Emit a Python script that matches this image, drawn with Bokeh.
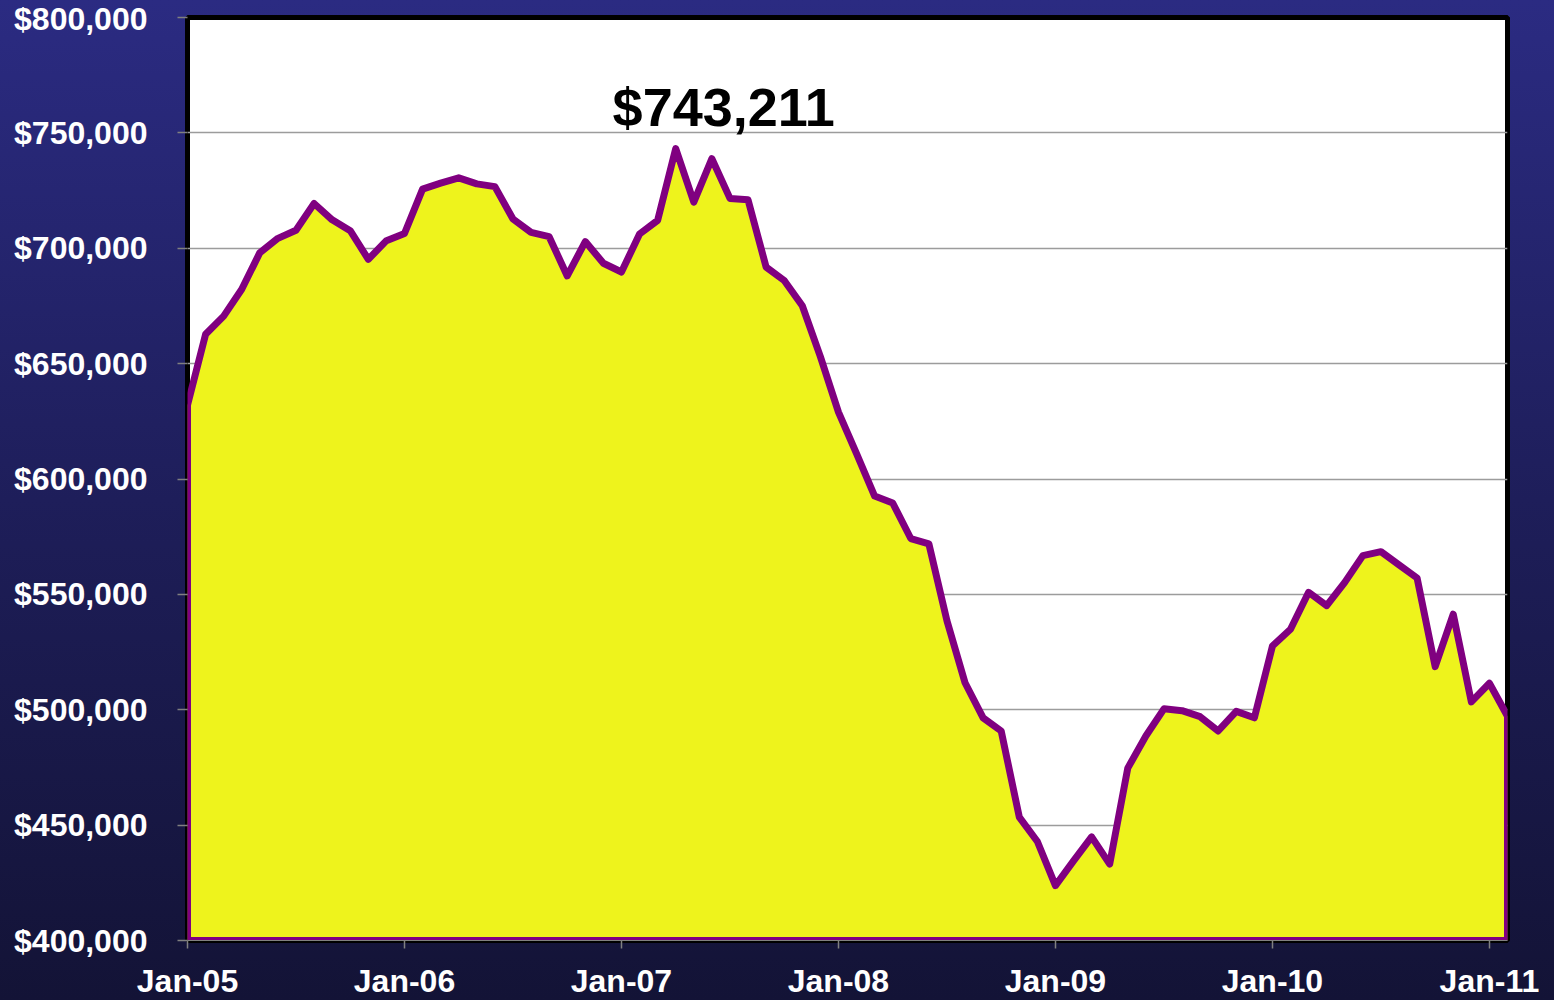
from bokeh.plotting import figure
from bokeh.models import Label, FixedTicker, Range1d
from bokeh.embed import file_html
from bokeh.resources import INLINE

# ---- data ----
month_names = ["Jan", "Feb", "Mar", "Apr", "May", "Jun",
               "Jul", "Aug", "Sep", "Oct", "Nov", "Dec"]
years = ["05", "06", "07", "08", "09", "10", "11"]
months = [f"{m}-{y}" for y in years for m in month_names][:74]

prices = [632000, 662700, 670600, 682200, 698100, 704300, 707800, 719400,
          712300, 707600, 695200, 703300, 706400, 725600, 728200, 730500,
          727900, 726700, 712700, 706900, 705000, 688000, 702900, 693500,
          689700, 706200, 712100, 743211, 720000, 738800, 721600, 721000,
          691800, 686000, 675100, 653000, 629000, 611000, 592600, 589600,
          574200, 571900, 538600, 511700, 496500, 490800, 453500, 442900,
          423800, 434500, 444900, 433100, 474700, 488600, 500400, 499600,
          497000, 490800, 499300, 496500, 527600, 534900, 550900, 545100,
          555200, 566800, 568500, 562800, 557100, 518700, 541400, 503400,
          511500, 497200]

x_tick_positions = [0, 12, 24, 36, 48, 60, 72]
x_tick_labels = ["Jan-05", "Jan-06", "Jan-07", "Jan-08", "Jan-09", "Jan-10", "Jan-11"]
y_ticks = [400000, 450000, 500000, 550000, 600000, 650000, 700000, 750000, 800000]
y_tick_labels = ["$400,000", "$450,000", "$500,000", "$550,000", "$600,000",
                 "$650,000", "$700,000", "$750,000", "$800,000"]
peak_label = "$743,211"

# ---- figure ----
n = len(prices)
xs = list(range(n))
y_min, y_max = y_ticks[0], y_ticks[-1]

FONT = "Liberation Sans"

p = figure(frame_width=1320, frame_height=923,
           x_range=Range1d(0, n - 1), y_range=Range1d(y_min, y_max),
           output_backend="svg", toolbar_location=None,
           min_border_left=187, min_border_right=47,
           min_border_top=17, min_border_bottom=40)

p.border_fill_color = None
p.background_fill_color = "white"
p.outline_line_color = "black"
p.outline_line_width = 5

# area
px = [xs[0]] + xs + [xs[-1]]
py = [y_min] + prices + [y_min]
p.patch(px, py, fill_color="#EEF31C", line_color="#800080",
        line_width=7, line_join="round")

# grid
p.xgrid.visible = False
p.ygrid.ticker = FixedTicker(ticks=y_ticks)
p.ygrid.grid_line_color = "#9c9c9c"
p.ygrid.grid_line_width = 1.5

# axes
p.xaxis.ticker = FixedTicker(ticks=x_tick_positions)
p.xaxis.major_label_overrides = {t: l for t, l in zip(x_tick_positions, x_tick_labels)}
p.yaxis.ticker = FixedTicker(ticks=y_ticks)
p.yaxis.major_label_overrides = {t: l for t, l in zip(y_ticks, y_tick_labels)}

for ax in (p.xaxis[0], p.yaxis[0]):
    ax.major_label_text_color = "white"
    ax.major_label_text_font = FONT
    ax.major_label_text_font_style = "bold"
    ax.major_label_text_font_size = "32px"
    ax.major_tick_line_color = "#808080"
    ax.major_tick_line_width = 1.5
    ax.major_tick_in = 0
    ax.minor_tick_line_color = None
    ax.axis_line_color = "#808080"

p.xaxis.major_tick_out = 8
p.xaxis.major_label_standoff = 14
p.yaxis.major_tick_out = 10
p.yaxis.major_label_standoff = 30
p.yaxis.axis_line_color = None

# peak annotation
peak_idx = prices.index(max(prices))
p.add_layout(Label(x=peak_idx, y=prices[peak_idx], text=peak_label,
                   x_offset=48, y_offset=42,
                   text_align="center", text_baseline="alphabetic",
                   text_font=FONT, text_font_style="bold",
                   text_font_size="54px", text_color="black"))

html = file_html(p, INLINE)
style = ("<style>html{height:100%;background:linear-gradient(to bottom,#2b2b82 0%,#1e1e5a 50%,#131336 100%);}"
         "body{margin:0;overflow:hidden;background:transparent;}</style>")
html = html.replace("<head>", "<head>" + style, 1)
open("out.html", "w").write(html)
